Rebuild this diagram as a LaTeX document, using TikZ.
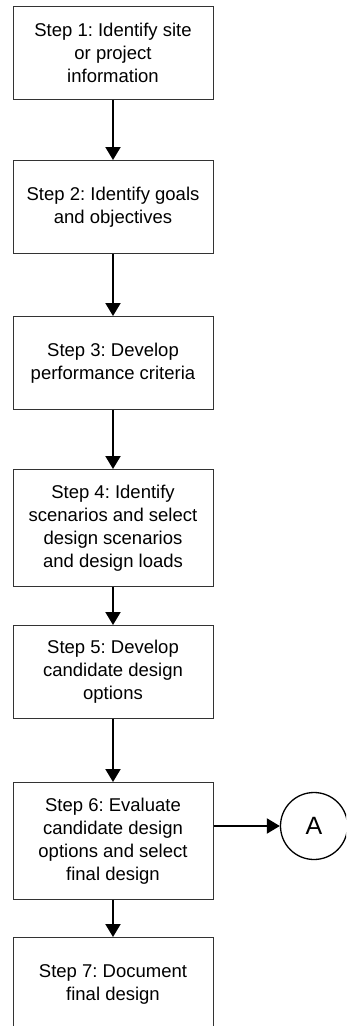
\documentclass[tikz,border=0pt]{standalone}
\usepackage{fontspec}
\setmainfont{Liberation Sans}
\usetikzlibrary{arrows.meta}
\frenchspacing

\begin{document}
\begin{tikzpicture}[x=1pt, y=-1pt,
  stepbox/.style={draw=black!80, line width=1pt, fill=white, anchor=north,
    minimum width=200pt, align=center, inner sep=0pt,
    font=\fontsize{18.5}{23}\selectfont},
  flow/.style={line width=2pt, -{Triangle[width=15pt, length=13pt]}},
  connector/.style={draw=black, line width=1.3pt, circle, minimum size=67pt,
    inner sep=0pt, font=\fontsize{25}{30}\selectfont}
]
  % page frame; everything past the lower and right edges is cut off
  \clip (0,0) rectangle (346,1026);
  \fill[white] (0,0) rectangle (346,1026);

  % process steps
  \node[stepbox, minimum height=93pt]  (s1) at (113,6)   {Step 1: Identify site\\or project\\information};
  \node[stepbox, minimum height=93pt]  (s2) at (113,160) {Step 2: Identify goals\\and objectives};
  \node[stepbox, minimum height=93pt]  (s3) at (113,316) {Step 3: Develop\\performance criteria};
  \node[stepbox, minimum height=117pt] (s4) at (113,469) {Step 4: Identify\\scenarios and select\\design scenarios\\and design loads};
  \node[stepbox, minimum height=93pt]  (s5) at (113,625) {Step 5: Develop\\candidate design\\options};
  \node[stepbox, minimum height=117pt] (s6) at (113,782) {Step 6: Evaluate\\candidate design\\options and select\\final design};
  \node[stepbox, minimum height=93pt]  (s7) at (113,937) {Step 7: Document\\final design};

  % off-page connector
  \node[connector] (A) at (314,826) {A};

  % flow between steps
  \draw[flow] (s1.south) -- (s2.north);
  \draw[flow] (s2.south) -- (s3.north);
  \draw[flow] (s3.south) -- (s4.north);
  \draw[flow] (s4.south) -- (s5.north);
  \draw[flow] (s5.south) -- (s6.north);
  \draw[flow] (s6.south) -- (s7.north);
  \draw[flow] (A.west -| s6.east) -- (A.west);
\end{tikzpicture}
\end{document}
